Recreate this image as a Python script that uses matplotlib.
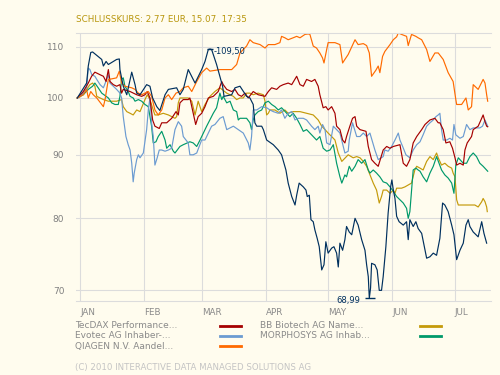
import matplotlib
matplotlib.use('Agg')
import matplotlib.pyplot as plt
import matplotlib.transforms as mtransforms
from matplotlib.lines import Line2D
from matplotlib.ticker import NullLocator
import pandas as pd

# x = days after 1 Jan 2010, y = performance indexed to 100
stock_days = [-1.3, 3.2, 4.0, 5.2, 6.1, 10.5, 11.3, 12.6, 13.7, 17.7,
              19.0, 19.3, 20.9, 22.6, 25.0, 26.6, 27.4, 29.0, 32.2, 33.8,
              35.1, 37.1, 38.6, 41.1, 42.7, 46.7, 48.3, 49.9, 52.3, 55.6,
              58.8, 60.4, 62.0, 62.8, 63.6, 66.0, 68.9, 69.6, 73.3, 74.9,
              77.3, 80.5, 82.1, 83.7, 84.5, 85.4, 87.8, 88.6, 90.2, 93.4,
              95.8, 97.4, 99.5, 100.6, 102.3, 103.9, 104.7, 105.9, 107.9, 109.2,
              109.8, 110.8, 111.6, 112.7, 113.5, 114.6, 115.6, 116.8, 117.9, 118.8,
              119.9, 121.6, 122.7, 124.0, 124.8, 125.6, 126.9, 128.0, 128.8, 130.1,
              131.3, 132.9, 134.4, 136.1, 137.7, 138.5, 139.3, 139.8, 140.4, 140.9,
              142.5, 143.6, 144.6, 145.7, 146.5, 147.8, 148.9, 150.1, 150.7, 151.4,
              152.2, 153.0, 154.2, 156.2, 157.8, 158.6, 159.4, 161.0, 162.3, 163.4,
              165.1, 167.5, 169.1, 170.7, 172.3, 173.9, 175.2, 176.3, 177.9, 179.6,
              180.7, 182.0, 183.6, 185.2, 186.5, 187.6, 188.4, 190.0, 192.4, 194.1,
              195.2, 196.5]
stock_vals = [100.0, 102.8, 106.1, 108.8, 108.9, 107.4, 106.1, 107.0, 106.4, 107.4,
              107.5, 105.4, 102.2, 100.6, 104.9, 102.5, 100.9, 100.6, 102.5, 102.2,
              100.0, 98.4, 97.7, 100.6, 101.6, 101.9, 100.6, 101.6, 105.4, 102.8,
              105.4, 107.0, 109.4, 109.5, 109.4, 106.4, 102.2, 100.3, 100.6, 101.9,
              102.2, 100.3, 100.0, 98.8, 95.5, 94.9, 94.9, 94.3, 92.5, 91.7,
              90.8, 90.0, 87.5, 85.4, 83.3, 82.0, 83.5, 85.4, 84.8, 84.3,
              83.3, 83.5, 79.8, 79.5, 78.3, 77.1, 75.9, 72.7, 73.4, 76.6,
              75.0, 75.7, 75.9, 75.0, 73.1, 76.4, 75.4, 76.9, 78.8, 78.0,
              77.6, 80.0, 79.0, 76.9, 75.4, 73.4, 71.8, 68.99, 70.3, 73.6,
              73.4, 72.7, 70.0, 70.0, 71.8, 75.9, 80.8, 84.8, 85.9, 84.3,
              83.0, 80.3, 79.5, 79.0, 79.5, 76.9, 79.8, 78.8, 79.5, 78.5,
              77.8, 74.3, 74.5, 75.0, 74.7, 77.1, 82.3, 82.0, 81.0, 79.0,
              77.6, 74.1, 75.4, 76.4, 79.0, 79.8, 78.8, 78.0, 77.3, 79.5,
              77.8, 76.4]

tecdax_days = [-1.3, 1.6, 4.0, 5.6, 7.2, 9.7, 11.3, 12.6, 13.7, 14.5,
               16.1, 17.7, 19.3, 20.1, 20.9, 24.2, 27.4, 29.8, 31.4, 32.5,
               33.8, 35.1, 36.2, 38.3, 39.5, 41.9, 44.3, 46.4, 47.5, 48.3,
               49.9, 52.3, 53.1, 55.9, 57.1, 58.8, 60.4, 62.0, 64.4, 66.8,
               68.5, 69.2, 70.9, 73.3, 74.9, 76.5, 78.1, 79.7, 81.3, 83.7,
               86.1, 89.4, 91.0, 92.6, 95.0, 96.6, 98.2, 100.6, 102.3, 104.7,
               106.3, 107.9, 109.5, 111.9, 113.5, 115.1, 115.9, 117.5, 118.8, 119.9,
               121.6, 123.2, 124.0, 125.6, 126.9, 128.0, 128.8, 130.4, 131.7, 132.9,
               133.7, 135.3, 138.2, 139.3, 140.9, 142.5, 144.1, 146.5, 148.2, 149.8,
               151.4, 154.6, 156.2, 157.8, 159.4, 161.0, 162.7, 165.1, 166.7, 169.1,
               171.5, 173.1, 173.9, 175.5, 176.8, 178.7, 180.0, 181.2, 182.0, 183.6,
               185.2, 186.0, 187.1, 189.2, 190.0, 192.4, 194.1, 194.8, 195.7, 196.5,
               197.0]
tecdax_vals = [100.0, 101.2, 102.8, 104.1, 104.9, 104.4, 104.1, 103.1, 105.4, 103.1,
               102.5, 102.2, 102.5, 100.9, 101.6, 101.2, 100.6, 100.3, 100.6, 101.2,
               100.0, 96.0, 94.9, 94.5, 95.5, 95.5, 96.3, 97.5, 96.9, 99.1,
               99.7, 99.7, 100.0, 95.2, 96.6, 97.2, 98.4, 100.0, 100.3, 101.2,
               103.1, 102.5, 101.6, 101.2, 101.6, 100.6, 100.3, 100.9, 100.0, 101.2,
               100.6, 100.3, 101.2, 101.9, 101.6, 102.2, 102.5, 102.8, 102.5, 104.1,
               102.5, 102.2, 103.5, 103.1, 103.5, 102.2, 100.6, 98.2, 98.4, 97.8,
               98.4, 97.2, 94.9, 94.3, 92.5, 92.0, 93.1, 94.9, 96.3, 96.6,
               94.9, 94.3, 94.0, 91.4, 89.2, 88.6, 88.1, 90.8, 91.4, 91.1,
               91.4, 91.7, 88.6, 88.1, 89.2, 92.0, 93.1, 94.3, 95.2, 96.0,
               96.3, 95.5, 95.5, 94.3, 92.0, 92.2, 91.1, 89.5, 88.3, 88.6,
               88.3, 90.8, 92.0, 93.1, 94.3, 94.9, 96.3, 96.9, 95.7, 94.9,
               94.8]

evotec_days = [-1.1, 0.8, 3.2, 4.0, 4.8, 5.7, 7.2, 8.1, 9.7, 11.3,
               12.9, 13.7, 14.5, 16.1, 17.7, 19.3, 20.1, 20.9, 22.2, 23.3,
               24.2, 25.0, 25.7, 26.2, 27.4, 28.2, 29.0, 30.6, 32.2, 33.0,
               33.8, 34.6, 35.4, 36.2, 37.3, 38.3, 39.5, 41.1, 42.7, 44.3,
               45.9, 47.5, 49.1, 49.9, 52.3, 53.1, 54.7, 56.4, 58.8, 60.4,
               62.0, 63.6, 65.2, 67.6, 69.2, 70.9, 72.5, 74.1, 76.5, 78.9,
               81.3, 82.1, 82.9, 83.7, 85.4, 87.8, 90.2, 91.8, 93.4, 95.8,
               97.4, 99.0, 100.6, 102.3, 103.9, 105.5, 107.9, 109.5, 111.9, 113.5,
               115.1, 115.9, 117.2, 118.4, 119.2, 120.8, 122.4, 125.6, 127.2, 128.0,
               129.6, 130.1, 131.7, 133.7, 135.3, 136.9, 138.5, 140.1, 142.5, 144.1,
               146.5, 147.3, 148.9, 150.6, 152.2, 153.8, 154.6, 155.9, 157.5, 159.4,
               161.0, 162.7, 164.3, 165.8, 167.5, 169.1, 170.7, 172.0, 173.1, 173.9,
               174.7, 175.5, 177.2, 178.7, 180.0, 180.7, 181.6, 183.6, 185.2, 186.8,
               188.4, 190.0, 193.2, 194.5, 195.7, 197.0]
evotec_vals = [100.0, 100.6, 101.9, 105.7, 105.4, 104.4, 104.1, 103.5, 102.5, 101.9,
               103.5, 104.4, 102.8, 102.2, 101.6, 100.9, 100.0, 96.6, 93.1, 91.7,
               90.8, 88.6, 85.6, 87.0, 89.2, 90.0, 89.5, 90.3, 94.3, 97.8,
               100.0, 95.5, 93.1, 88.3, 89.5, 90.8, 90.8, 90.6, 90.8, 91.1,
               94.3, 95.7, 94.9, 93.1, 92.0, 90.0, 90.0, 90.3, 92.5, 92.5,
               93.7, 94.9, 95.2, 96.3, 96.6, 94.3, 94.6, 94.9, 94.3, 93.7,
               92.0, 90.8, 93.1, 97.8, 97.8, 98.4, 98.2, 97.8, 97.5, 97.2,
               97.8, 96.3, 97.2, 97.5, 96.0, 96.3, 96.3, 96.0, 94.9, 94.3,
               94.9, 93.7, 95.2, 94.3, 92.0, 91.7, 94.9, 93.7, 91.4, 90.3,
               90.6, 92.5, 95.5, 93.1, 93.1, 93.7, 93.1, 93.7, 90.8, 89.2,
               89.7, 90.8, 90.6, 91.4, 92.5, 93.7, 92.5, 91.4, 90.0, 89.5,
               90.8, 91.7, 92.2, 93.4, 94.9, 95.5, 96.0, 96.6, 96.9, 97.2,
               94.3, 92.5, 92.5, 92.8, 92.5, 95.2, 93.4, 92.8, 93.1, 95.2,
               94.3, 94.6, 94.6, 94.9, 96.0, 94.9]

qiagen_days = [-1.3, 1.6, 3.2, 4.0, 5.2, 6.4, 8.1, 11.3, 12.1, 13.7,
               15.3, 17.7, 19.0, 20.1, 21.7, 25.0, 26.6, 28.2, 29.8, 31.4,
               33.0, 34.6, 36.2, 37.8, 39.5, 41.1, 42.7, 44.3, 46.4, 48.3,
               49.9, 52.3, 54.0, 56.4, 58.8, 61.2, 62.8, 67.6, 73.3, 75.7,
               77.3, 80.5, 82.1, 83.7, 87.0, 89.4, 91.0, 94.2, 96.6, 97.4,
               99.0, 100.6, 103.0, 104.7, 106.3, 108.7, 110.3, 111.1, 112.7, 114.3,
               115.9, 117.2, 117.9, 119.2, 119.9, 121.6, 123.2, 125.6, 126.9, 128.0,
               129.6, 132.9, 134.4, 136.9, 138.5, 139.8, 140.9, 143.0, 144.1, 144.9,
               146.2, 147.3, 149.8, 151.4, 153.0, 153.8, 155.4, 157.8, 158.6, 160.2,
               162.3, 163.4, 165.1, 167.5, 169.1, 171.5, 173.1, 175.5, 177.9, 180.3,
               181.6, 182.0, 184.4, 186.5, 187.6, 189.2, 190.0, 192.4, 194.8, 195.7,
               196.5, 197.0]
qiagen_vals = [100.0, 100.6, 101.6, 100.0, 101.2, 100.6, 100.0, 98.4, 99.7, 103.5,
               103.6, 103.8, 105.1, 102.8, 102.2, 101.9, 101.6, 100.9, 100.6, 100.9,
               101.2, 100.3, 97.8, 96.9, 97.8, 100.0, 100.6, 99.7, 100.9, 101.2,
               101.9, 102.2, 101.2, 103.1, 104.8, 105.7, 105.1, 105.4, 105.4, 106.4,
               108.7, 110.1, 111.4, 110.8, 110.4, 109.7, 110.4, 110.4, 110.8, 112.1,
               111.8, 111.4, 111.8, 112.1, 111.8, 112.5, 112.6, 112.5, 110.1, 109.7,
               108.7, 107.7, 106.7, 109.4, 110.8, 110.8, 110.8, 110.4, 106.7, 107.4,
               108.4, 111.4, 110.4, 110.6, 110.2, 108.7, 104.1, 105.3, 106.1, 104.8,
               108.0, 109.0, 110.4, 111.4, 112.0, 112.8, 112.5, 112.1, 110.2, 112.5,
               112.1, 111.8, 111.4, 109.4, 107.0, 108.7, 108.7, 107.4, 104.8, 103.1,
               99.7, 98.8, 98.8, 100.0, 97.8, 98.4, 102.5, 101.6, 103.5, 102.8,
               100.6, 99.4]

bbbiotech_days = [-1.3, 0.8, 3.2, 4.8, 6.1, 7.2, 8.1, 9.7, 11.3, 13.7,
                  17.7, 20.1, 20.9, 22.6, 24.2, 25.7, 27.4, 29.0, 31.4, 32.5,
                  33.8, 35.4, 36.2, 37.8, 40.2, 42.7, 45.9, 46.7, 47.5, 48.3,
                  52.3, 54.0, 55.6, 57.1, 58.8, 60.4, 62.8, 65.2, 67.6, 70.9,
                  72.5, 74.1, 75.7, 77.3, 78.9, 80.5, 82.1, 83.7, 86.1, 88.6,
                  89.4, 90.2, 91.0, 91.8, 94.2, 96.6, 99.0, 100.6, 103.0, 106.3,
                  109.5, 112.7, 115.1, 116.8, 118.4, 119.9, 121.6, 123.2, 124.8, 126.5,
                  129.6, 132.0, 133.7, 135.3, 136.9, 138.5, 141.7, 143.3, 144.6, 145.7,
                  146.5, 148.2, 149.8, 151.4, 152.2, 153.0, 155.4, 157.0, 158.6, 160.2,
                  161.8, 162.7, 164.3, 165.8, 167.5, 169.1, 170.7, 172.3, 173.1, 174.7,
                  176.3, 177.9, 179.6, 180.3, 181.2, 182.0, 182.8, 185.2, 187.6, 189.2,
                  190.8, 192.4, 194.1, 194.8, 195.7, 196.5, 196.8]
bbbiotech_vals = [100.0, 100.6, 101.6, 102.5, 102.8, 102.2, 100.3, 100.0, 99.7, 99.4,
                  99.4, 99.7, 98.4, 97.5, 97.2, 96.9, 97.8, 97.5, 99.7, 100.6,
                  99.7, 97.8, 96.9, 96.9, 97.2, 96.9, 96.3, 96.6, 99.1, 100.0,
                  100.0, 99.4, 96.9, 99.4, 97.5, 98.8, 100.3, 101.2, 101.9, 100.9,
                  100.6, 100.3, 99.7, 100.0, 100.0, 100.9, 100.9, 100.6, 100.9, 100.6,
                  99.4, 96.9, 97.2, 97.8, 97.8, 97.2, 97.8, 97.2, 97.5, 97.5,
                  97.2, 96.9, 96.0, 94.9, 94.3, 93.7, 93.1, 92.5, 90.3, 88.9,
                  90.0, 89.5, 89.7, 89.5, 88.9, 88.1, 85.4, 84.3, 82.3, 83.3,
                  84.3, 84.3, 83.8, 84.3, 83.8, 84.6, 84.6, 84.8, 85.1, 85.4,
                  87.5, 88.1, 87.8, 87.5, 88.9, 89.7, 89.2, 90.3, 89.5, 88.3,
                  88.6, 88.1, 87.8, 87.0, 86.4, 82.8, 82.0, 82.0, 82.0, 82.0,
                  82.0, 81.7, 82.5, 83.0, 82.5, 81.7, 81.0]

morphosys_days = [-1.3, 1.6, 4.0, 6.1, 7.2, 8.8, 10.5, 13.7, 15.3, 16.9,
                  18.5, 19.3, 20.1, 20.9, 21.7, 23.3, 24.2, 25.7, 26.6, 28.2,
                  29.8, 31.4, 33.0, 34.6, 35.4, 36.7, 37.8, 39.5, 41.1, 41.9,
                  43.5, 45.1, 45.9, 48.3, 49.9, 53.1, 54.7, 56.4, 58.0, 59.6,
                  61.2, 64.4, 66.0, 67.6, 68.5, 69.2, 70.9, 72.5, 74.1, 75.7,
                  76.5, 77.3, 80.5, 82.1, 82.9, 83.7, 84.5, 86.1, 87.8, 89.4,
                  91.0, 92.6, 94.2, 95.8, 97.4, 99.9, 101.4, 103.0, 104.7, 106.3,
                  107.9, 109.5, 111.1, 112.7, 114.3, 115.9, 117.5, 119.2, 120.8, 122.4,
                  124.0, 125.6, 126.5, 128.0, 128.8, 130.1, 131.3, 132.9, 134.4, 136.1,
                  137.7, 139.3, 140.1, 141.7, 143.3, 144.9, 146.5, 148.2, 149.8, 151.4,
                  153.0, 154.6, 156.2, 157.8, 158.6, 159.4, 160.2, 161.0, 162.3, 163.4,
                  164.3, 165.8, 167.5, 169.1, 170.7, 172.3, 174.7, 176.3, 177.9, 179.6,
                  180.7, 181.6, 182.8, 185.2, 186.8, 188.4, 190.0, 191.6, 193.2, 194.8,
                  197.0]
morphosys_vals = [100.0, 100.6, 101.6, 102.2, 102.8, 101.9, 100.9, 100.0, 99.1, 98.8,
                  98.8, 100.3, 103.5, 103.8, 102.2, 101.2, 100.3, 100.0, 99.4, 99.7,
                  99.4, 98.8, 98.4, 94.9, 92.0, 92.2, 93.1, 94.0, 92.5, 91.1,
                  91.7, 90.6, 90.3, 91.4, 91.7, 92.2, 92.0, 91.4, 92.5, 93.7,
                  94.9, 97.2, 98.2, 100.9, 99.7, 100.3, 99.1, 99.4, 97.8, 97.5,
                  96.0, 96.3, 96.3, 95.5, 94.3, 96.0, 96.9, 97.5, 97.8, 99.1,
                  99.4, 98.8, 98.4, 97.8, 98.2, 97.2, 96.6, 97.2, 96.3, 95.2,
                  94.0, 94.3, 93.7, 93.1, 92.5, 93.1, 91.1, 90.6, 90.8, 91.7,
                  88.6, 86.4, 85.4, 86.7, 86.4, 88.1, 87.3, 88.1, 89.2, 88.6,
                  89.2, 87.5, 87.0, 87.5, 87.0, 86.4, 85.6, 85.4, 84.8, 84.1,
                  83.3, 82.8, 82.3, 81.5, 80.0, 81.0, 84.3, 87.5, 87.8, 87.5,
                  87.3, 86.4, 85.6, 87.0, 88.1, 89.7, 87.5, 86.7, 86.2, 85.4,
                  83.8, 88.3, 89.5, 88.6, 88.6, 89.7, 90.3, 89.7, 88.6, 88.1,
                  87.3]

max_point = (62.8, 109.50)
min_point = (140.1, 68.99)
month_labels = ['JAN', 'FEB', 'MAR', 'APR', 'MAY', 'JUN', 'JUL']
y_ticks = [70, 80, 90, 100, 110]
legend_col1 = ['TecDAX Performance...', 'Evotec AG Inhaber-...', 'QIAGEN N.V. Aandel...']
legend_col2 = ['BB Biotech AG Name...', 'MORPHOSYS AG Inhab...']

BG = '#fffcee'
GRID = '#dcdcdc'
NAVY = '#00305e'
RED = '#a50000'
BLUE = '#6b9bd1'
ORANGE = '#ff6a00'
GOLD = '#c49a0a'
GREEN = '#00996a'


def main():
    fig = plt.figure(figsize=(5, 3.75), dpi=100, facecolor=BG)
    ax = fig.add_axes([0.152, 0.1973, 0.830, 0.716])
    ax.set_facecolor(BG)

    ax.set_yscale('log')
    ax.set_ylim(68.63, 112.9)
    ax.set_xlim(-1.93, 198.6)

    # month starts as day offsets
    starts = pd.date_range('2010-01-01', '2010-07-01', freq='MS')
    month_days = (starts - pd.Timestamp('2010-01-01')).days
    ax.set_xticks(month_days)
    ax.set_xticklabels(month_labels)
    offset = mtransforms.ScaledTranslation(3 / 100, 0, fig.dpi_scale_trans)
    for lab in ax.get_xticklabels():
        lab.set_horizontalalignment('left')
        lab.set_transform(lab.get_transform() + offset)

    ax.set_yticks(y_ticks)
    ax.set_yticklabels([str(v) for v in y_ticks])
    ax.yaxis.set_minor_locator(NullLocator())
    ax.tick_params(axis='x', length=0, pad=5, labelsize=6.3, labelcolor='#8a8a8a')
    ax.tick_params(axis='y', length=0, pad=8.4, labelsize=6.5, labelcolor='#808080')

    ax.grid(True, color=GRID, lw=0.8)
    ax.set_axisbelow(True)
    for side in ['left', 'right']:
        ax.spines[side].set_visible(False)
    for side in ['top', 'bottom']:
        ax.spines[side].set_color(GRID)
        ax.spines[side].set_linewidth(0.8)

    series = [
        (bbbiotech_days, bbbiotech_vals, GOLD),
        (morphosys_days, morphosys_vals, GREEN),
        (evotec_days, evotec_vals, BLUE),
        (tecdax_days, tecdax_vals, RED),
        (qiagen_days, qiagen_vals, ORANGE),
        (stock_days, stock_vals, NAVY),
    ]
    for days, vals, color in series:
        ax.plot(days, vals, color=color, lw=0.85)

    # high / low markers
    ax.plot([max_point[0]], [max_point[1]], marker='_', ms=5, mew=1.0, color=NAVY)
    ax.annotate('-109,50', xy=max_point, xytext=(2.5, -1.7), textcoords='offset points',
                ha='left', va='center', fontsize=6, color=NAVY)
    ax.plot([min_point[0]], [min_point[1]], marker='_', ms=7, mew=1.0, color=NAVY)
    ax.annotate('68,99', xy=min_point, xytext=(-7, -1.9), textcoords='offset points',
                ha='right', va='center', fontsize=6, color=NAVY)

    fig.text(0.152, 0.9485, 'SCHLUSSKURS: 2,77 EUR, 15.07. 17:35', fontsize=6.3,
             color='#b8960c', ha='left', va='center')

    # legend below the chart
    rows = [0.1307, 0.104, 0.0773]
    for name, color, y in zip(legend_col1, [RED, BLUE, ORANGE], rows):
        fig.text(0.15, y, name, fontsize=6.5, color='#8a8a8a', ha='left', va='center')
        fig.add_artist(Line2D([0.44, 0.482], [y, y], color=color, lw=2))
    for name, color, y in zip(legend_col2, [GOLD, GREEN], rows):
        fig.text(0.52, y, name, fontsize=6.5, color='#8a8a8a', ha='left', va='center')
        fig.add_artist(Line2D([0.84, 0.882], [y, y], color=color, lw=2))

    fig.text(0.15, 0.0205, '(C) 2010 INTERACTIVE DATA MANAGED SOLUTIONS AG', fontsize=6.2,
             color='#c4c4c4', ha='left', va='center')

    fig.savefig('out.png', dpi=100, facecolor=BG)
    plt.close(fig)


if __name__ == '__main__':
    main()
